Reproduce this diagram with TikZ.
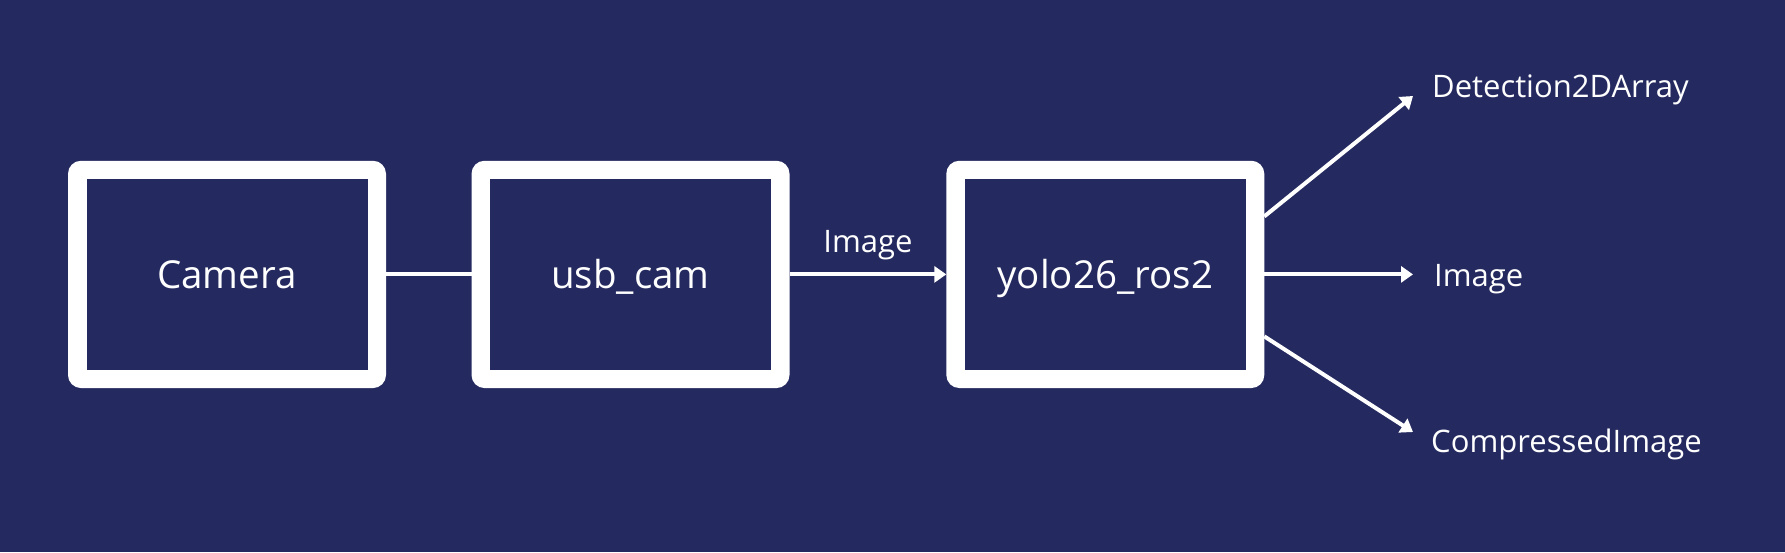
\documentclass[tikz,border=0pt]{standalone}
\usepackage{fontspec}
\setmainfont{Open Sans}
\usetikzlibrary{arrows.meta,calc}
\definecolor{bg}{HTML}{242A5F}
\begin{document}
\begin{tikzpicture}[x=1pt,y=-1pt,
  box/.style={fill=white, rounded corners=13pt,
    minimum width=318pt, minimum height=227.3pt, text=white, outer sep=0pt,
    font=\fontsize{38.5}{46}\selectfont, text height=27.5pt, text depth=0pt, inner sep=0pt,
    path picture={\fill[bg,sharp corners] ([shift={(18.5pt,-18.5pt)}]path picture bounding box.north west)
      rectangle ([shift={(-18.5pt,18.5pt)}]path picture bounding box.south east);}},
  conn/.style={draw=white, line width=4pt},
  arr/.style={conn, -{Triangle[length=12pt,width=16pt]}},
  lbl/.style={text=white, font=\fontsize{31}{37}\selectfont, inner sep=0pt}]
\fill[bg] (0,0) rectangle (1785,552);
\useasboundingbox (0,0) rectangle (1785,552);
\node[box] (cam) at (227,274.4) {Camera};
\node[box] (usb) at (630.5,274.4) {usb\_cam};
\node[box] (yolo) at (1105.3,274.4) {yolo26\_ros2};
\draw[conn] (cam.east) -- (usb.west);
\draw[arr] (usb.east) -- (yolo.west);
\node[lbl, anchor=base] (limg) at ($(usb.east)!0.5!(yolo.west)+(0,-21.7)$) {Image};
\coordinate (s1) at ($(yolo.east)+(0,-58)$);
\coordinate (s3) at ($(yolo.east)+(0,62)$);
\coordinate (t1) at (1413,96);
\coordinate (t2) at (1413,274.4);
\coordinate (t3) at (1413,432);
\draw[arr] (s1) -- (t1);
\draw[arr] (yolo.east) -- (t2);
\draw[arr] (s3) -- (t3);
\node[lbl, anchor=base west] (ldet) at (1432,97.7) {Detection2DArray};
\node[lbl, anchor=base west] (lout) at (1434,286) {Image};
\node[lbl, anchor=base west] (lcomp) at (1431,452.7) {CompressedImage};
\end{tikzpicture}
\end{document}
